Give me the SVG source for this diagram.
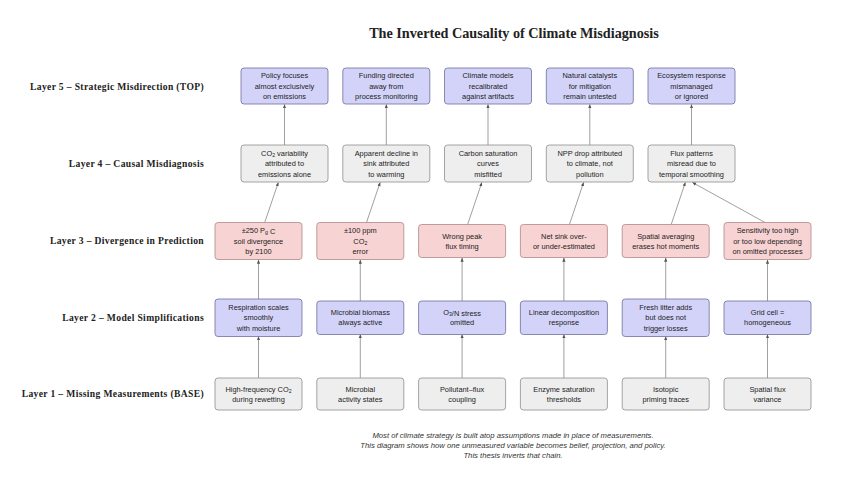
<svg xmlns="http://www.w3.org/2000/svg" width="846" height="483" viewBox="0 0 846 483">
<style>
.title{font-family:"Liberation Serif","DejaVu Serif",serif;font-weight:bold;font-size:14.2px;fill:#222;text-anchor:middle}
.layer{font-family:"Liberation Serif","DejaVu Serif",serif;font-weight:bold;font-size:9.6px;letter-spacing:0.35px;fill:#222;text-anchor:end}
.t{font-family:"Liberation Sans","DejaVu Sans",sans-serif;font-size:7.4px;fill:#222;text-anchor:middle;dominant-baseline:central}
.sub{font-size:5.2px}
.foot{font-family:"Liberation Sans","DejaVu Sans",sans-serif;font-style:italic;font-size:7.7px;fill:#333;text-anchor:middle}
.blue{fill:#d3d3fa;stroke:#6e6e9c;stroke-width:0.8}
.red{fill:#f8d3d3;stroke:#b08686;stroke-width:0.8}
.gray{fill:#eeeeee;stroke:#8e8e8e;stroke-width:0.8}
.c{stroke:#777;stroke-width:0.7;fill:none;marker-end:url(#ah)}
</style>
<defs>
<marker id="ah" viewBox="0 0 6 6" refX="5.5" refY="3" markerWidth="4" markerHeight="4" orient="auto" markerUnits="userSpaceOnUse">
<path d="M0,0.6 L6,3 L0,5.4 Z" fill="#555"/>
</marker>
</defs>
<rect width="846" height="483" fill="#ffffff"/>
<text class="title" x="514" y="38">The Inverted Causality of Climate Misdiagnosis</text>

<g id="layer-labels">
<text class="layer" x="204" y="90">Layer 5 – Strategic Misdirection (TOP)</text>
<text class="layer" x="204" y="167">Layer 4 – Causal Misdiagnosis</text>
<text class="layer" x="204" y="244">Layer 3 – Divergence in Prediction</text>
<text class="layer" x="204" y="321">Layer 2 – Model Simplifications</text>
<text class="layer" x="204" y="397">Layer 1 – Missing Measurements (BASE)</text>
</g>

<g id="connectors">
<!-- L4 -> L5 -->
<line class="c" x1="284.5" y1="145" x2="284.5" y2="104.5"/>
<line class="c" x1="386.3" y1="145" x2="386.3" y2="104.5"/>
<line class="c" x1="488" y1="145" x2="488" y2="104.5"/>
<line class="c" x1="589.8" y1="145" x2="589.8" y2="104.5"/>
<line class="c" x1="691.5" y1="145" x2="691.5" y2="104.5"/>
<!-- L3 -> L4 -->
<line class="c" x1="264.7" y1="222.5" x2="278.3" y2="182.5"/>
<line class="c" x1="366.5" y1="222.5" x2="380.1" y2="182.5"/>
<line class="c" x1="467.6" y1="224.5" x2="481.8" y2="182.5"/>
<line class="c" x1="569.4" y1="224.5" x2="583.6" y2="182.5"/>
<line class="c" x1="671.2" y1="224.5" x2="685.3" y2="182.5"/>
<line class="c" x1="765" y1="222.5" x2="692.5" y2="182.5"/>
<!-- L2 -> L3 -->
<line class="c" x1="258.5" y1="299" x2="258.5" y2="260"/>
<line class="c" x1="360.3" y1="301" x2="360.3" y2="260"/>
<line class="c" x1="462.1" y1="301" x2="462.1" y2="258"/>
<line class="c" x1="563.9" y1="301" x2="563.9" y2="258"/>
<line class="c" x1="665.7" y1="299" x2="665.7" y2="258"/>
<line class="c" x1="767.5" y1="301" x2="767.5" y2="260"/>
<!-- L1 -> L2 -->
<line class="c" x1="258.5" y1="378" x2="258.5" y2="336.5"/>
<line class="c" x1="360.3" y1="378" x2="360.3" y2="334.5"/>
<line class="c" x1="462.1" y1="378" x2="462.1" y2="334.5"/>
<line class="c" x1="563.9" y1="378" x2="563.9" y2="334.5"/>
<line class="c" x1="665.7" y1="378" x2="665.7" y2="336.5"/>
<line class="c" x1="767.5" y1="378" x2="767.5" y2="334.5"/>
</g>

<!-- Layer 5 -->
<g id="l5-policy"><rect class="blue" x="241" y="68" width="87" height="36" rx="3"/>
<text class="t" x="284.5" y="75.5">Policy focuses</text><text class="t" x="284.5" y="86">almost exclusively</text><text class="t" x="284.5" y="96.5">on emissions</text></g>
<g id="l5-funding"><rect class="blue" x="342.8" y="68" width="87" height="36" rx="3"/>
<text class="t" x="386.3" y="75.5">Funding directed</text><text class="t" x="386.3" y="86">away from</text><text class="t" x="386.3" y="96.5">process monitoring</text></g>
<g id="l5-models"><rect class="blue" x="444.5" y="68" width="87" height="36" rx="3"/>
<text class="t" x="488" y="75.5">Climate models</text><text class="t" x="488" y="86">recalibrated</text><text class="t" x="488" y="96.5">against artifacts</text></g>
<g id="l5-catalysts"><rect class="blue" x="546.3" y="68" width="87" height="36" rx="3"/>
<text class="t" x="589.8" y="75.5">Natural catalysts</text><text class="t" x="589.8" y="86">for mitigation</text><text class="t" x="589.8" y="96.5">remain untested</text></g>
<g id="l5-ecosystem"><rect class="blue" x="648" y="68" width="87" height="36" rx="3"/>
<text class="t" x="691.5" y="75.5">Ecosystem response</text><text class="t" x="691.5" y="86">mismanaged</text><text class="t" x="691.5" y="96.5">or ignored</text></g>

<!-- Layer 4 -->
<g id="l4-co2"><rect class="gray" x="241" y="145" width="87" height="37" rx="3"/>
<text class="t" x="284.5" y="153">CO<tspan class="sub" dy="1.8">2</tspan><tspan dy="-1.8"> variability</tspan></text><text class="t" x="284.5" y="163.5">attributed to</text><text class="t" x="284.5" y="174">emissions alone</text></g>
<g id="l4-sink"><rect class="gray" x="342.8" y="145" width="87" height="37" rx="3"/>
<text class="t" x="386.3" y="153">Apparent decline in</text><text class="t" x="386.3" y="163.5">sink attributed</text><text class="t" x="386.3" y="174">to warming</text></g>
<g id="l4-saturation"><rect class="gray" x="444.5" y="145" width="87" height="37" rx="3"/>
<text class="t" x="488" y="153">Carbon saturation</text><text class="t" x="488" y="163.5">curves</text><text class="t" x="488" y="174">misfitted</text></g>
<g id="l4-npp"><rect class="gray" x="546.3" y="145" width="87" height="37" rx="3"/>
<text class="t" x="589.8" y="153">NPP drop attributed</text><text class="t" x="589.8" y="163.5">to climate, not</text><text class="t" x="589.8" y="174">pollution</text></g>
<g id="l4-flux"><rect class="gray" x="648" y="145" width="87" height="37" rx="3"/>
<text class="t" x="691.5" y="153">Flux patterns</text><text class="t" x="691.5" y="163.5">misread due to</text><text class="t" x="691.5" y="174">temporal smoothing</text></g>

<!-- Layer 3 -->
<g id="l3-soil"><rect class="red" x="215" y="222.5" width="87" height="37" rx="3"/>
<text class="t" x="258.5" y="230.5">±250 P<tspan class="sub" dy="1.8">g</tspan><tspan dy="-1.8"> C</tspan></text><text class="t" x="258.5" y="241">soil divergence</text><text class="t" x="258.5" y="251.5">by 2100</text></g>
<g id="l3-ppm"><rect class="red" x="316.8" y="222.5" width="87" height="37" rx="3"/>
<text class="t" x="360.3" y="230.5">±100 ppm</text><text class="t" x="360.3" y="241">CO<tspan class="sub" dy="1.8">2</tspan></text><text class="t" x="360.3" y="251.5">error</text></g>
<g id="l3-peak"><rect class="red" x="418.6" y="224.5" width="87" height="33" rx="3"/>
<text class="t" x="462.1" y="236">Wrong peak</text><text class="t" x="462.1" y="246">flux timing</text></g>
<g id="l3-sink"><rect class="red" x="520.4" y="224.5" width="87" height="33" rx="3"/>
<text class="t" x="563.9" y="236">Net sink over-</text><text class="t" x="563.9" y="246">or under-estimated</text></g>
<g id="l3-spatial"><rect class="red" x="622.2" y="224.5" width="87" height="33" rx="3"/>
<text class="t" x="665.7" y="236">Spatial averaging</text><text class="t" x="665.7" y="246">erases hot moments</text></g>
<g id="l3-sensitivity"><rect class="red" x="724" y="222.5" width="87" height="37" rx="3"/>
<text class="t" x="767.5" y="230.5">Sensitivity too high</text><text class="t" x="767.5" y="241">or too low depending</text><text class="t" x="767.5" y="251.5">on omitted processes</text></g>

<!-- Layer 2 -->
<g id="l2-respiration"><rect class="blue" x="215" y="299" width="87" height="37.5" rx="3"/>
<text class="t" x="258.5" y="307">Respiration scales</text><text class="t" x="258.5" y="317.5">smoothly</text><text class="t" x="258.5" y="328">with moisture</text></g>
<g id="l2-biomass"><rect class="blue" x="316.8" y="301" width="87" height="33.5" rx="3"/>
<text class="t" x="360.3" y="312.5">Microbial biomass</text><text class="t" x="360.3" y="322.5">always active</text></g>
<g id="l2-ozone"><rect class="blue" x="418.6" y="301" width="87" height="33.5" rx="3"/>
<text class="t" x="462.1" y="312.5">O<tspan class="sub" dy="1.8">3</tspan><tspan dy="-1.8">/N stress</tspan></text><text class="t" x="462.1" y="322.5">omitted</text></g>
<g id="l2-linear"><rect class="blue" x="520.4" y="301" width="87" height="33.5" rx="3"/>
<text class="t" x="563.9" y="312.5">Linear decomposition</text><text class="t" x="563.9" y="322.5">response</text></g>
<g id="l2-litter"><rect class="blue" x="622.2" y="299" width="87" height="37.5" rx="3"/>
<text class="t" x="665.7" y="307">Fresh litter adds</text><text class="t" x="665.7" y="317.5">but does not</text><text class="t" x="665.7" y="328">trigger losses</text></g>
<g id="l2-grid"><rect class="blue" x="724" y="301" width="87" height="33.5" rx="3"/>
<text class="t" x="767.5" y="312.5">Grid cell =</text><text class="t" x="767.5" y="322.5">homogeneous</text></g>

<!-- Layer 1 -->
<g id="l1-highfreq"><rect class="gray" x="215" y="378" width="87" height="32" rx="3"/>
<text class="t" x="258.5" y="389">High-frequency CO<tspan class="sub" dy="1.8">2</tspan></text><text class="t" x="258.5" y="399.5">during rewetting</text></g>
<g id="l1-microbial"><rect class="gray" x="316.8" y="378" width="87" height="32" rx="3"/>
<text class="t" x="360.3" y="389">Microbial</text><text class="t" x="360.3" y="399.5">activity states</text></g>
<g id="l1-pollutant"><rect class="gray" x="418.6" y="378" width="87" height="32" rx="3"/>
<text class="t" x="462.1" y="389">Pollutant–flux</text><text class="t" x="462.1" y="399.5">coupling</text></g>
<g id="l1-enzyme"><rect class="gray" x="520.4" y="378" width="87" height="32" rx="3"/>
<text class="t" x="563.9" y="389">Enzyme saturation</text><text class="t" x="563.9" y="399.5">thresholds</text></g>
<g id="l1-isotopic"><rect class="gray" x="622.2" y="378" width="87" height="32" rx="3"/>
<text class="t" x="665.7" y="389">Isotopic</text><text class="t" x="665.7" y="399.5">priming traces</text></g>
<g id="l1-spatialflux"><rect class="gray" x="724" y="378" width="87" height="32" rx="3"/>
<text class="t" x="767.5" y="389">Spatial flux</text><text class="t" x="767.5" y="399.5">variance</text></g>

<g id="footer">
<text class="foot" x="513" y="438">Most of climate strategy is built atop assumptions made in place of measurements.</text>
<text class="foot" x="513" y="448">This diagram shows how one unmeasured variable becomes belief, projection, and policy.</text>
<text class="foot" x="513" y="458">This thesis inverts that chain.</text>
</g>
</svg>
